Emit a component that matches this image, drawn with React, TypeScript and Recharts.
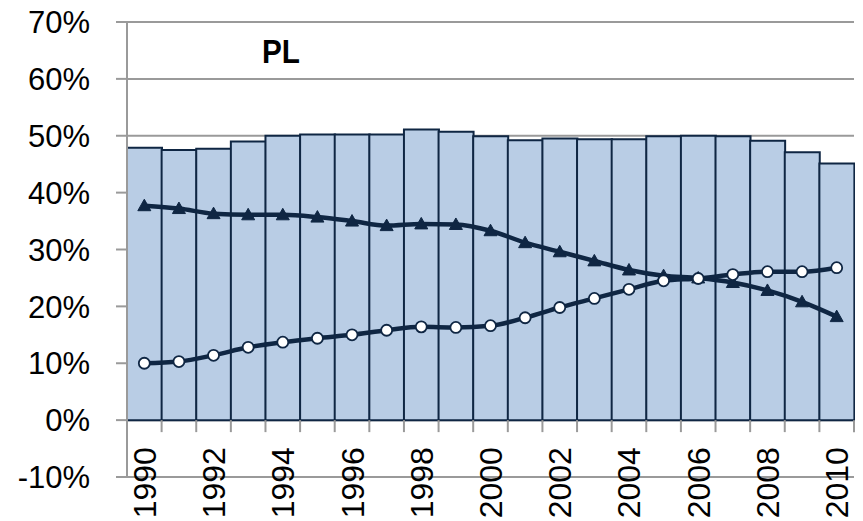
import React from "react";
import { ComposedChart, Bar, Line, XAxis, YAxis, CartesianGrid } from "recharts";

const years = [
  "1990", "1991", "1992", "1993", "1994", "1995", "1996", "1997", "1998", "1999", "2000",
  "2001", "2002", "2003", "2004", "2005", "2006", "2007", "2008", "2009", "2010",
];
const barValues = [
  47.9, 47.5, 47.7, 49.0, 50.0, 50.2, 50.2, 50.2, 51.1, 50.7, 49.9,
  49.2, 49.5, 49.4, 49.4, 49.9, 50.0, 49.9, 49.1, 47.1, 45.1,
];
const triangleValues = [
  37.7, 37.2, 36.3, 36.1, 36.1, 35.7, 35.0, 34.2, 34.5, 34.4, 33.3,
  31.2, 29.6, 28.0, 26.4, 25.4, 25.0, 24.2, 22.8, 20.8, 18.2,
];
const circleValues = [
  10.0, 10.3, 11.4, 12.8, 13.7, 14.4, 15.0, 15.8, 16.4, 16.3, 16.6,
  18.0, 19.8, 21.4, 23.0, 24.5, 24.9, 25.6, 26.1, 26.1, 26.8,
];
const yTicks = [-10, 0, 10, 20, 30, 40, 50, 60, 70];
const yDomain = [-10, 70];
const titleText = "PL";

const data = years.map((y, i) => ({
  year: y,
  total: barValues[i],
  tri: triangleValues[i],
  circ: circleValues[i],
}));

const CHART_W = 855;
const CHART_H = 513;
const MARGIN = { top: 14, right: 9, left: 0, bottom: 14 };
const XAXIS_H = 30;
const YAXIS_W = 119;
const PLOT_H = CHART_H - MARGIN.top - MARGIN.bottom - XAXIS_H;
const PLOT_W = CHART_W - MARGIN.left - MARGIN.right - YAXIS_W;
const BAND = PLOT_W / years.length;
const ZERO_OFFSET = (PLOT_H * (0 - yDomain[0])) / (yDomain[1] - yDomain[0]);

const DARK = "#0f2643";
const GRID = "#9a9a9a";
const FONT = "'Liberation Sans', Arial, sans-serif";

const XTick = (props: any) => {
  const { x, y, payload, index } = props;
  const zeroY = y - ZERO_OFFSET;
  const showLabel = index % 2 === 0;
  return (
    <g>
      <line x1={x + BAND / 2} x2={x + BAND / 2} y1={zeroY} y2={zeroY + 12} stroke={GRID} strokeWidth={2} />
      {showLabel && (
        <text
          x={x}
          y={zeroY + 27}
          transform={`rotate(-90 ${x} ${zeroY + 27})`}
          textAnchor="end"
          dy="0.36em"
          fontSize={32}
          fontFamily={FONT}
          fill="#000"
        >
          {payload.value}
        </text>
      )}
    </g>
  );
};

const YTick = (props: any) => {
  const { x, y, payload } = props;
  return (
    <text x={x} y={y} dy="0.36em" textAnchor="end" fontSize={31} fontFamily={FONT} fill="#000">
      {`${payload.value}%`}
    </text>
  );
};

const TriangleDot = (props: any) => {
  const { cx, cy } = props;
  if (cx == null || cy == null) return null;
  return <polygon points={`${cx},${cy - 6.5} ${cx - 6.5},${cy + 5} ${cx + 6.5},${cy + 5}`} fill={DARK} stroke={DARK} strokeWidth={1} />;
};

const CircleDot = (props: any) => {
  const { cx, cy } = props;
  if (cx == null || cy == null) return null;
  return <circle cx={cx} cy={cy} r={5.5} fill="#fff" stroke={DARK} strokeWidth={1.8} />;
};

export default function App() {
  return (
    <div style={{ position: "relative", width: CHART_W, height: CHART_H }}>
      <style>{`.recharts-surface, .recharts-wrapper { overflow: visible !important; }`}</style>
      <ComposedChart
        width={CHART_W}
        height={CHART_H}
        data={data}
        margin={MARGIN}
        barCategoryGap={0}
        barGap={0}
        style={{ overflow: "visible" }}
      >
        <CartesianGrid horizontal vertical={false} stroke={GRID} strokeWidth={2} />
        <XAxis
          dataKey="year"
          height={XAXIS_H}
          axisLine={false}
          tickLine={false}
          tickSize={0}
          tickMargin={0}
          interval={0}
          tick={<XTick />}
        />
        <YAxis
          width={YAXIS_W}
          domain={yDomain}
          ticks={yTicks}
          interval={0}
          tick={<YTick />}
          axisLine={{ stroke: GRID, strokeWidth: 2 }}
          tickLine={{ stroke: GRID, strokeWidth: 2 }}
          tickSize={11}
          tickMargin={26}
          allowDataOverflow
        />
        <Bar dataKey="total" fill="#b9cde5" stroke={DARK} strokeWidth={2} isAnimationActive={false} />
        <Line
          dataKey="tri"
          type="monotone"
          stroke={DARK}
          strokeWidth={4.5}
          dot={<TriangleDot />}
          activeDot={false}
          isAnimationActive={false}
        />
        <Line
          dataKey="circ"
          type="monotone"
          stroke={DARK}
          strokeWidth={4.5}
          dot={<CircleDot />}
          activeDot={false}
          isAnimationActive={false}
        />
      </ComposedChart>
      <svg
        width={CHART_W}
        height={CHART_H}
        style={{ position: "absolute", left: 0, top: 0, pointerEvents: "none", overflow: "visible" }}
      >
        <text
          x={254}
          y={55}
          fontSize={34}
          fontWeight="bold"
          fontFamily={FONT}
          fill="#000"
          textLength={38}
          lengthAdjust="spacingAndGlyphs"
        >
          {titleText}
        </text>
      </svg>
    </div>
  );
}
